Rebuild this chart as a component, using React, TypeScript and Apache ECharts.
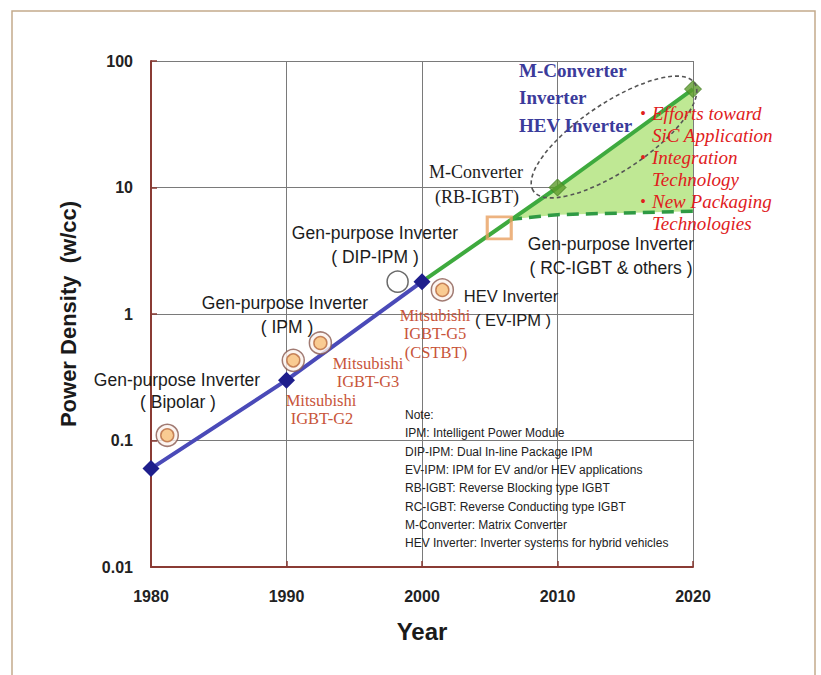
import React, { useEffect, useRef } from "react";
import * as echarts from "echarts";

// ---- data ----
const xTicks = [1980, 1990, 2000, 2010, 2020];
const yTicks = [0.01, 0.1, 1, 10, 100];
const blueTrend = [[1980, 0.06], [1990, 0.3], [2000, 1.8]];
const greenTrend = [[2000, 1.8], [2010, 10], [2020, 60]];
const greenDiamonds = [[2010, 10], [2020, 60]];
const dashedTrend = [[2006.5, 5.6], [2010, 6.1], [2020, 6.5]];
const fillUpper = [[2006.5, 5.6], [2010, 10], [2020, 60]];
const fillLower = [[2020, 6.5], [2010, 6.1]];
const ringPoints = [[1981.2, 0.11], [1990.5, 0.43], [1992.5, 0.59], [2001.5, 1.55]];
const hollowPoints = [[1998.2, 1.8]];
const squarePoints = [[2005.7, 4.8]];

const noteLines = [
  "Note:",
  "IPM: Intelligent Power Module",
  "DIP-IPM: Dual In-line Package IPM",
  "EV-IPM: IPM for EV and/or HEV applications",
  "RB-IGBT: Reverse Blocking type IGBT",
  "RC-IGBT: Reverse Conducting type IGBT",
  "M-Converter: Matrix Converter",
  "HEV Inverter: Inverter systems for hybrid vehicles",
];
const blueLines = ["M-Converter", "Inverter", "HEV Inverter"];
const redLines = [
  ["•", "Efforts toward"],
  ["", "SiC Application"],
  ["•", "Integration"],
  ["", "Technology"],
  ["•", "New Packaging"],
  ["", "Technologies"],
];

const SANS = "Arial, 'Liberation Sans', sans-serif";
const SERIF = "'Times New Roman', 'Liberation Serif', serif";

function txt(text: string, x: number, y: number, font: string, fill: string, align = "center") {
  return {
    type: "text",
    x,
    y,
    z: 100,
    style: {
      text,
      font,
      fill,
      align,
      textAlign: align,
      verticalAlign: "middle",
      textVerticalAlign: "middle",
    },
  };
}

export default function App() {
  const ref = useRef<HTMLDivElement>(null);
  useEffect(() => {
    if (!ref.current) return;
    const chart = echarts.init(ref.current, null, { renderer: "svg" });

    const black = "#1c1c1c";
    const mitsu = "#c8553a";
    const gpFont = `17.5px ${SANS}`;
    const mFont = `16.5px ${SERIF}`;

    const graphics: any[] = [
      {
        type: "rect",
        z: 0,
        shape: { x: 12, y: 11, width: 803, height: 700 },
        style: { fill: "none", stroke: "#c4ab8c", lineWidth: 1.5 },
      },
      txt("Gen-purpose Inverter", 177, 380, gpFont, black),
      txt("( Bipolar )", 178, 402, gpFont, black),
      txt("Gen-purpose Inverter", 285, 303, gpFont, black),
      txt("( IPM )", 287, 327, gpFont, black),
      txt("Gen-purpose Inverter", 375, 233, gpFont, black),
      txt("( DIP-IPM )", 375, 257, gpFont, black),
      txt("HEV Inverter", 511, 296, `16.5px ${SANS}`, black),
      txt("( EV-IPM )", 513, 320, `16.5px ${SANS}`, black),
      txt("Gen-purpose Inverter", 611, 244, gpFont, black),
      txt("( RC-IGBT & others )", 611, 268, gpFont, black),
      txt("M-Converter", 476, 172, `18px ${SERIF}`, black),
      txt("(RB-IGBT)", 477, 197, `18px ${SERIF}`, black),
      txt("Mitsubishi", 321, 400, mFont, mitsu),
      txt("IGBT-G2", 322, 418, mFont, mitsu),
      txt("Mitsubishi", 368, 363, mFont, mitsu),
      txt("IGBT-G3", 368, 381, mFont, mitsu),
      txt("Mitsubishi", 435, 315, mFont, mitsu),
      txt("IGBT-G5", 435, 333, mFont, mitsu),
      txt("(CSTBT)", 436, 352, mFont, mitsu),
      {
        type: "ellipse",
        x: 614,
        y: 137,
        rotation: 0.59,
        z: 90,
        shape: { cx: 0, cy: 0, rx: 97, ry: 34 },
        style: { fill: "none", stroke: "#555", lineWidth: 1.6, lineDash: [4, 3] },
      },
    ];
    blueLines.forEach((t, i) => {
      graphics.push(txt(t, 519, 70 + i * 27.5, `bold 19px ${SERIF}`, "#3b3b9b", "left"));
    });
    redLines.forEach(([b, t], i) => {
      const y = 113 + i * 22;
      if (b) graphics.push(txt(b, 643, y, `16px ${SERIF}`, "#e0201c", "center"));
      graphics.push(txt(t, 652, y, `italic 19px ${SERIF}`, "#e0201c", "left"));
    });
    noteLines.forEach((t, i) => {
      graphics.push(txt(t, 405, 415 + i * 18.3, `12px ${SANS}`, "#222", "left"));
    });

    const ringBase = {
      type: "scatter",
      data: ringPoints,
      symbol: "circle",
      z: 5,
    };

    chart.setOption({
      animation: false,
      backgroundColor: "#ffffff",
      grid: { left: 151, top: 61, width: 542, height: 506, show: false },
      xAxis: {
        type: "value",
        min: 1980,
        max: 2020,
        interval: 10,
        name: "Year",
        nameLocation: "middle",
        nameGap: 52,
        nameTextStyle: { fontFamily: SANS, fontWeight: "bold", fontSize: 24, color: "#1a1a1a" },
        axisLine: { show: true, lineStyle: { color: "#8a3b34", width: 2 } },
        axisTick: { show: true, inside: true, length: 6, lineStyle: { color: "#8a3b34", width: 1.5 } },
        axisLabel: {
          margin: 21,
          fontFamily: SANS,
          fontWeight: "bold",
          fontSize: 16,
          color: "#222",
          formatter: (v: number) => (xTicks.includes(v) ? String(v) : ""),
        },
        splitLine: { show: true, lineStyle: { color: "#7a7a7a", width: 1 } },
      },
      yAxis: {
        type: "log",
        logBase: 10,
        min: 0.01,
        max: 100,
        name: "Power Density  (w/cc)",
        nameLocation: "middle",
        nameGap: 72,
        nameTextStyle: { fontFamily: SANS, fontWeight: "bold", fontSize: 22, color: "#1a1a1a" },
        axisLine: { show: true, lineStyle: { color: "#8a3b34", width: 2 } },
        axisTick: { show: true, inside: true, length: 6, lineStyle: { color: "#8a3b34", width: 1.5 } },
        axisLabel: {
          margin: 18,
          fontFamily: SANS,
          fontWeight: "bold",
          fontSize: 16,
          color: "#222",
          formatter: (v: number) => {
            const m = yTicks.find((t) => Math.abs(t - v) / t < 1e-6);
            return m === undefined ? "" : String(m);
          },
        },
        splitLine: { show: true, lineStyle: { color: "#7a7a7a", width: 1 } },
      },
      graphic: graphics,
      series: [
        {
          type: "custom",
          z: 1,
          data: [0],
          renderItem: (_p: any, api: any) => {
            const pts = [...fillUpper, ...fillLower].map((d) => api.coord(d));
            return {
              type: "polygon",
              shape: { points: pts },
              style: { fill: "#bfe894", stroke: "none" },
            };
          },
        },
        {
          type: "line",
          data: dashedTrend,
          symbol: "none",
          z: 2,
          lineStyle: { color: "#2f9a44", width: 3.5, type: [12, 7] },
        },
        {
          type: "line",
          data: greenTrend,
          symbol: "none",
          z: 3,
          lineStyle: { color: "#3eaa3e", width: 4 },
        },
        {
          type: "line",
          data: blueTrend,
          symbol: "diamond",
          symbolSize: 17,
          z: 4,
          itemStyle: { color: "#1e1e8c" },
          lineStyle: { color: "#4a4ab8", width: 4 },
        },
        {
          type: "scatter",
          data: greenDiamonds,
          symbol: "diamond",
          symbolSize: 17,
          z: 4,
          itemStyle: { color: "#5c9a2c", borderColor: "#3e7a20", borderWidth: 1 },
        },
        {
          type: "scatter",
          data: squarePoints,
          symbol: "rect",
          symbolSize: [24, 22],
          z: 5,
          itemStyle: { color: "rgba(0,0,0,0)", borderColor: "#e8a060", borderWidth: 3 },
        },
        {
          ...ringBase,
          symbolSize: 22,
          itemStyle: { color: "#fbf3ee", borderColor: "#8a5a50", borderWidth: 1.5 },
        },
        {
          ...ringBase,
          symbolSize: 13,
          z: 6,
          itemStyle: { color: "#f8c07a", borderColor: "#b86a40", borderWidth: 1.5 },
        },
        {
          type: "scatter",
          data: hollowPoints,
          symbol: "circle",
          symbolSize: 21,
          z: 5,
          itemStyle: { color: "#ffffff", borderColor: "#444", borderWidth: 1.5 },
        },
      ],
    });
    return () => chart.dispose();
  }, []);
  return (
    <div
      ref={ref}
      style={{ position: "absolute", left: 0, top: 0, width: 821, height: 675 }}
    />
  );
}
